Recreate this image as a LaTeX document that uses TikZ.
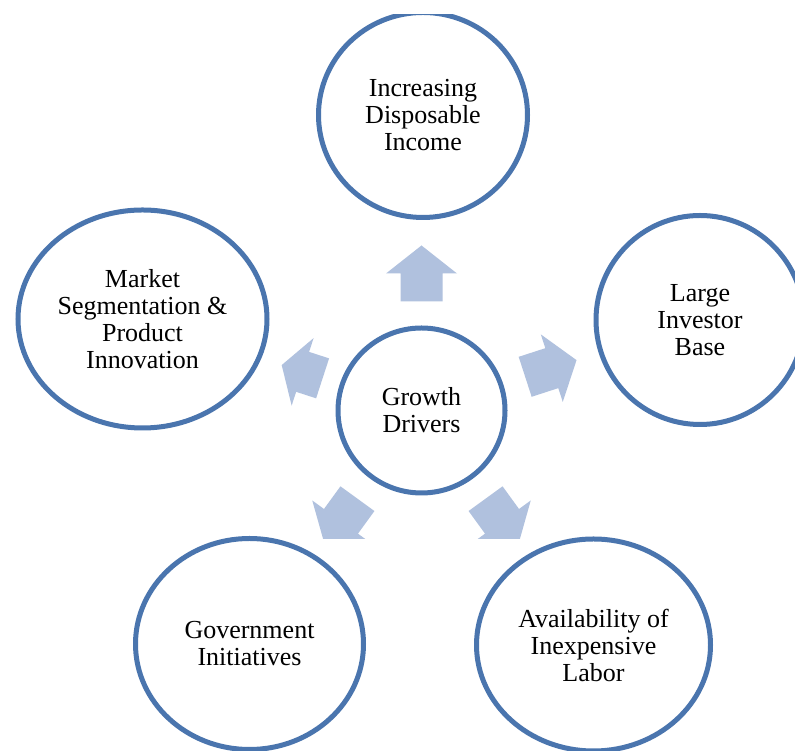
\documentclass[tikz,border=0pt]{standalone}
\usepackage{fontspec}
\setmainfont{Liberation Serif}
\usetikzlibrary{shapes.geometric}
\definecolor{ringblue}{RGB}{74,117,174}
\definecolor{arrowblue}{RGB}{176,193,222}
\tikzset{
  ring/.style={ellipse, draw=ringblue, line width=5pt, fill=white, align=center,
    inner sep=0pt, font=\fontsize{26}{27}\selectfont},
  blockarrow/.style={fill=arrowblue, draw=none}
}
\newcommand{\blockarr}[4]{%
  \begin{scope}[shift={(gd.center)}, rotate=#1]
    \fill[blockarrow] (#2,-21) -- (#3,-21) -- (#3,-35.5) -- (#4,0) -- (#3,35.5) -- (#3,21) -- (#2,21) -- cycle;
  \end{scope}}
\begin{document}
\begin{tikzpicture}[x=1pt,y=1pt]
\useasboundingbox (0,0) rectangle (795,751);
\fill[white] (0,0) rectangle (795,751);
\clip (0,0) rectangle (795,736);
% centre
\node[ring, minimum width=167pt, minimum height=165pt] (gd) at (421.5,340.5) {Growth\\Drivers};
% outer
\node[ring, minimum width=209pt, minimum height=205pt] (inc) at (423,636) {Increasing\\Disposable\\Income};
\node[ring, minimum width=208pt, minimum height=209pt] (inv) at (700,431) {Large\\Investor\\Base};
\node[ring, minimum width=249pt, minimum height=218pt] (mkt) at (142.5,432) {Market\\Segmentation \&\\Product\\Innovation};
\node[ring, minimum width=228pt, minimum height=211pt] (gov) at (249.5,107) {Government\\Initiatives};
\node[ring, minimum width=234pt, minimum height=212pt] (lab) at (593.5,106) {Availability of\\Inexpensive\\Labor};
% arrows
\blockarr{90}{109}{137}{165}
\blockarr{18}{109}{137}{163}
\blockarr{162}{104}{125}{147}
\begin{scope}
  \clip (0,212.5) rectangle (795,751);
  \blockarr{-54}{109}{137}{165}
  \blockarr{-126}{109}{137}{165}
\end{scope}
\end{tikzpicture}
\end{document}
